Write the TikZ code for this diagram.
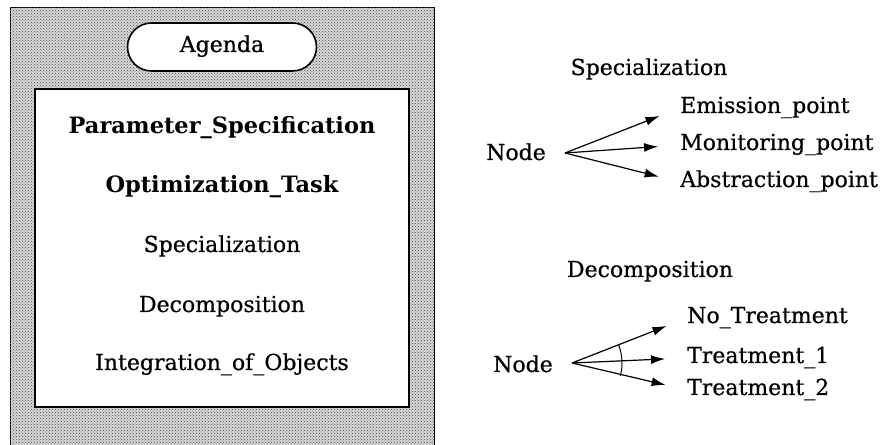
\documentclass[tikz,border=0pt]{standalone}
\usepackage{fontspec}
\setmainfont{DejaVu Serif}[FakeBold=0.6, BoldFeatures={FakeBold=0}]
\usepackage{tikz}
\usetikzlibrary{arrows.meta,patterns,shapes.misc}

\begin{document}
\begin{tikzpicture}[x=1pt,y=1pt,
    lbl/.style={font=\fontsize{22}{26}\selectfont, inner sep=0pt, text height=15pt, text depth=5pt},
    bold/.style={lbl, font=\fontsize{22.5}{26}\selectfont\bfseries},
    arr/.style={-{Latex[length=14pt,width=9pt]}, line width=1.2pt, shorten >=22pt}]
  \useasboundingbox (0,0) rectangle (888,444);
  % agenda window
  \draw[line width=1pt, fill=black!15, postaction={pattern=crosshatch dots, pattern color=black!75}] (10,-10) rectangle (434,436);
  \draw[line width=1.8pt, fill=white] (35,37) rectangle (409,355);
  \node[lbl, draw, line width=1.6pt, fill=white, rounded rectangle, minimum width=189pt, minimum height=48pt] (ag) at (222,397) {Agenda};
  \node[bold] (ps) at (222,315) {Parameter\_Specification};
  \node[bold] (ot) at (222,256) {Optimization\_Task};
  \node[lbl] (sp) at (222,197) {Specialization};
  \node[lbl] (dc) at (222,137) {Decomposition};
  \node[lbl] (io) at (222,79) {Integration\_of\_Objects};
  % specialization
  \node[lbl] (st) at (649,374) {Specialization};
  \node[lbl] (n1) at (516,289) {Node};
  \coordinate (o1) at (565,291);
  \node[lbl, anchor=west] (e1) at (680,336) {Emission\_point};
  \node[lbl, anchor=west] (m1) at (680,299) {Monitoring\_point};
  \node[lbl, anchor=west] (a1) at (680,262) {Abstraction\_point};
  \draw[arr] (o1) -- (e1.west);
  \draw[arr] (o1) -- (m1.west);
  \draw[arr] (o1) -- (a1.west);
  % decomposition
  \node[lbl] (dt) at (650,172) {Decomposition};
  \node[lbl] (n2) at (523,77) {Node};
  \coordinate (o2) at (572,81);
  \node[lbl, anchor=west] (nt) at (687,126) {No\_Treatment};
  \node[lbl, anchor=west] (t1) at (687,86) {Treatment\_1};
  \node[lbl, anchor=west] (t2) at (687,54) {Treatment\_2};
  \draw[arr] (o2) -- (nt.west);
  \draw[arr] (o2) -- (t1.west);
  \draw[arr] (o2) -- (t2.west);
  \draw[line width=1pt] ([shift={(21:50)}]o2) arc[start angle=21, end angle=-15, radius=50];
\end{tikzpicture}
\end{document}
